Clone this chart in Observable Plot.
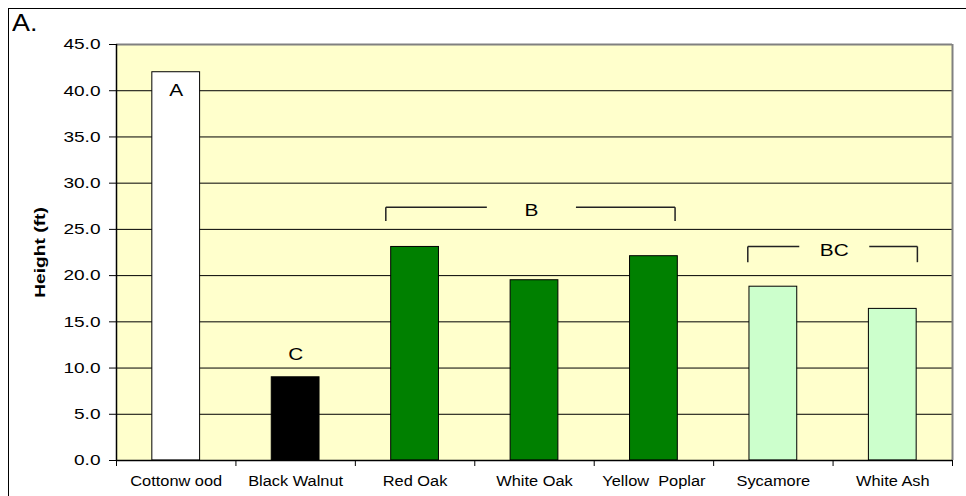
<!DOCTYPE html>
<html><head><meta charset="utf-8">
<script src="https://cdn.jsdelivr.net/npm/d3@7"></script>
<script src="https://cdn.jsdelivr.net/npm/@observablehq/plot@0.6"></script>
<style>
body{margin:0;background:#fff;}
#wrap{position:relative;width:966px;height:496px;overflow:hidden;background:#fff;}
#chart{position:absolute;left:0;top:0;}
#border{position:absolute;left:8px;top:8px;width:1000px;height:540px;border:1px solid #000;box-sizing:border-box;pointer-events:none;}
#panel{position:absolute;left:12px;top:11px;font:24px "Liberation Sans",Arial,sans-serif;line-height:1;transform:scaleX(1.12);transform-origin:0 0;}
</style></head><body>
<div id="wrap"><div id="chart"></div><div id="border"></div><div id="panel">A.</div></div>
<script>
// ---- data ----
const species = ["Cottonwood","Black Walnut","Red Oak","White Oak","Yellow Poplar","Sycamore","White Ash"];
const tickLabels = ["Cottonw ood","Black Walnut","Red Oak","White Oak","Yellow  Poplar","Sycamore","White Ash"];
const heights = [42.0, 9.0, 23.1, 19.5, 22.1, 18.8, 16.4];
const barColors = ["#FFFFFF","#000000","#008000","#008000","#008000","#CCFFCC","#CCFFCC"];
const yTicks = [0,5,10,15,20,25,30,35,40,45];
const yTitle = "Height (ft)";
// letters above single bars
const letterText = ["A","C"];
const letterIndex = [0, 1];
const letterY = [40.0, 11.4];
// bracket groups (x in category-index units, y in ft)
const bracketLabels = ["B","BC"];
const bracketFrom = [1.755, 4.786];
const bracketTo = [4.177, 6.206];
const bracketGapFrom = [2.601, 5.217];
const bracketGapTo = [3.347, 5.803];
const bracketTop = [27.4, 23.15];
const bracketBottom = [25.9, 21.45];

// ---- build ----
const data = species.map((s,i)=>({i, species:s, h:heights[i], color:barColors[i]}));
const segs = [];
bracketLabels.forEach((lab,k)=>{
  segs.push({x1:bracketFrom[k], y1:bracketBottom[k], x2:bracketFrom[k], y2:bracketTop[k]});
  segs.push({x1:bracketFrom[k], y1:bracketTop[k], x2:bracketGapFrom[k], y2:bracketTop[k]});
  segs.push({x1:bracketGapTo[k], y1:bracketTop[k], x2:bracketTo[k], y2:bracketTop[k]});
  segs.push({x1:bracketTo[k], y1:bracketTop[k], x2:bracketTo[k], y2:bracketBottom[k]});
});
const bracketText = bracketLabels.map((t,k)=>({t, x:(bracketGapFrom[k]+bracketGapTo[k])/2, y:bracketTop[k]}));
const letters = letterText.map((t,k)=>({t, x:letterIndex[k], y:letterY[k]}));
const boundaries = d3.range(species.length+1).map(i=>i-0.5);

const chart = Plot.plot({
  width:966, height:496, marginLeft:116, marginRight:14, marginTop:44, marginBottom:36,
  style:{fontFamily:"'Liberation Sans', Arial, sans-serif", fontSize:"15px", background:"transparent", color:"#000"},
  x:{domain:[-0.5, species.length-0.5], axis:null},
  y:{domain:[0,45], axis:null},
  color:{type:"identity"},
  marks:[
    Plot.frame({fill:"#FFFFCC", stroke:null}),
    Plot.gridY(yTicks, {stroke:"#000", strokeOpacity:1}),
    Plot.rectY(data, {x1:d=>d.i-0.2, x2:d=>d.i+0.2, y:"h", fill:"color", stroke:"#000", strokeWidth:1}),
    Plot.link(segs, {x1:"x1", y1:"y1", x2:"x2", y2:"y2", stroke:"#222", strokeWidth:1.5}),
    Plot.text(bracketText, {x:"x", y:"y", text:"t", fontSize:16, dy:4}),
    Plot.text(letters, {x:"x", y:"y", text:"t", fontSize:16}),
    Plot.ruleY([45], {stroke:"#808080", strokeWidth:2}),
    Plot.ruleX([species.length-0.5], {stroke:"#808080", strokeWidth:2}),
    Plot.ruleX([-0.5], {stroke:"#000", strokeWidth:1.5}),
    Plot.ruleY([0], {stroke:"#000", strokeWidth:1.5}),
    Plot.axisY({ticks:yTicks, tickFormat:d3.format(".1f"), tickSize:7, tickPadding:9, label:null, fontSize:15}),
    Plot.axisX({ticks:boundaries, tickFormat:()=>"", tickSize:6, label:null}),
    Plot.axisX({ticks:d3.range(species.length), tickFormat:i=>tickLabels[i], tickSize:0, tickPadding:16, label:null, fontSize:14}),
    Plot.text([yTitle], {frameAnchor:"left", textAnchor:"middle", rotate:-90, dx:-76, fontWeight:"bold", fontSize:15})
  ]
});
document.getElementById("chart").appendChild(chart);

// horizontal widening of glyphs, as in the reference rendering
const yTickStr = yTicks.map(d3.format(".1f"));
const letterStr = letterText.concat(bracketLabels);
chart.querySelectorAll("text").forEach(t=>{
  const s = t.textContent;
  let f = 1;
  if (yTickStr.includes(s)) f = 1.27;
  else if (tickLabels.includes(s)) f = 1.17;
  else if (letterStr.includes(s)) f = 1.3;
  else if (s === yTitle) f = 1.28;
  const w = t.getComputedTextLength();
  if (f !== 1 && w > 0) { t.setAttribute("textLength", (w*f).toFixed(1)); t.setAttribute("lengthAdjust","spacingAndGlyphs"); }
});
</script>
</body></html>
